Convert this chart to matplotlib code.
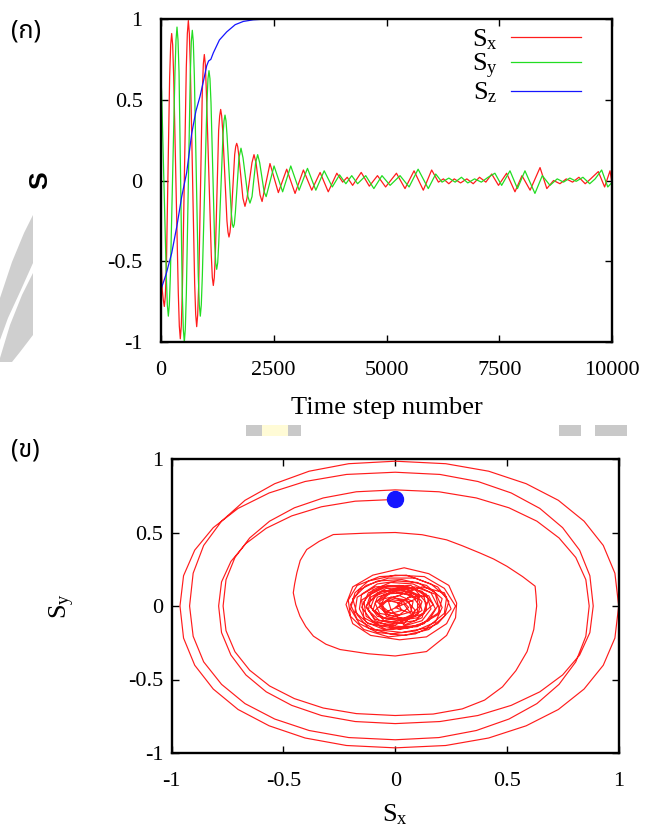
import matplotlib.pyplot as plt
from matplotlib.patches import Polygon, Rectangle

# ---- panel (a): spin components vs time step
sx_points = [
    (0, -0.42), (35, -0.68), (58, -0.74), (80, -0.78), (102, -0.72), (125, -0.55),
    (198, 0.64), (221, 0.84), (243, 0.91), (265, 0.84), (288, 0.64),
    (389, -0.69), (412, -0.90), (434, -0.98), (456, -0.90), (479, -0.69),
    (567, 0.70), (590, 0.91), (612, 0.99), (634, 0.91), (657, 0.70),
    (752, -0.64), (775, -0.83), (797, -0.905), (819, -0.83), (842, -0.64),
    (921, 0.55), (944, 0.72), (966, 0.78), (988, 0.72), (1011, 0.55),
    (1120, -0.46), (1143, -0.60), (1165, -0.65), (1187, -0.60), (1210, -0.46),
    (1283, 0.31), (1306, 0.40), (1328, 0.44), (1350, 0.40), (1373, 0.31),
    (1467, -0.25), (1490, -0.32), (1512, -0.35), (1534, -0.32), (1557, -0.25),
    (1638, 0.16), (1661, 0.21), (1683, 0.23), (1705, 0.21), (1728, 0.16),
    (1821, -0.11), (1866, -0.16), (1911, -0.11), (2021, 0.11), (2066, 0.16), (2111, 0.11),
    (2200, -0.09), (2245, -0.13),
    (2420, 0.105), (2605, -0.075), (2790, 0.07), (2975, -0.08), (3160, 0.065), (3345, -0.06),
    (3530, 0.05), (3710, -0.07), (3900, 0.045), (4030, -0.01), (4130, 0.02), (4250, -0.03),
    (4440, 0.05), (4620, -0.035), (4800, 0.03), (4980, -0.04), (5220, 0.045), (5410, -0.05),
    (5610, 0.06), (5815, -0.06), (6000, 0.065), (6150, -0.01), (6260, 0.01), (6380, -0.02),
    (6500, 0.01), (6640, -0.015), (6780, 0.01), (6920, -0.02), (7060, 0.02), (7200, -0.01),
    (7330, 0.04), (7480, -0.03), (7660, 0.045), (7845, -0.07), (8000, 0.03), (8180, -0.06),
    (8400, 0.08), (8550, -0.05), (8700, 0.0), (8840, -0.02), (8980, 0.01), (9120, -0.01),
    (9260, 0.02), (9400, -0.02), (9520, 0.01), (9690, 0.055), (9830, -0.04), (9950, 0.06),
    (10000, -0.03),
]
sy_points = [
    (0, 0.66), (20, 0.55), (124, -0.59), (147, -0.77), (169, -0.84), (191, -0.77), (214, -0.59),
    (316, 0.67), (339, 0.87), (361, 0.95), (383, 0.87), (406, 0.67),
    (478, -0.70), (501, -0.92), (523, -1.0), (545, -0.92), (568, -0.70),
    (655, 0.65), (678, 0.86), (700, 0.93), (722, 0.86), (745, 0.65),
    (832, -0.59), (855, -0.77), (877, -0.84), (899, -0.77), (922, -0.59),
    (1024, 0.48), (1047, 0.63), (1069, 0.68), (1091, 0.63), (1114, 0.48),
    (1195, -0.39), (1218, -0.51), (1240, -0.55), (1262, -0.51), (1285, -0.39),
    (1379, 0.28), (1402, 0.37), (1424, 0.405), (1446, 0.37), (1469, 0.28),
    (1563, -0.20), (1586, -0.27), (1608, -0.29), (1630, -0.27), (1653, -0.20),
    (1733, 0.14), (1778, 0.20), (1823, 0.14), (1932, -0.10), (1977, -0.14), (2022, -0.10),
    (2102, 0.11), (2147, 0.16), (2192, 0.11), (2290, -0.07), (2335, -0.10),
    (2510, 0.09), (2700, -0.07), (2880, 0.09), (3065, -0.06), (3250, 0.075), (3435, -0.06),
    (3620, 0.06), (3800, -0.04), (3960, 0.035), (4100, -0.02), (4230, 0.03), (4360, -0.02),
    (4540, 0.03), (4720, -0.05), (4900, 0.03), (5080, -0.03), (5300, 0.03), (5500, -0.04),
    (5700, 0.07), (5925, -0.05), (6090, 0.04), (6230, -0.01), (6380, 0.015), (6520, -0.01),
    (6660, 0.02), (6800, -0.015), (6950, 0.01), (7100, -0.01), (7250, 0.02), (7400, 0.045),
    (7550, -0.03), (7734, 0.06), (7900, -0.05), (8066, 0.06), (8287, -0.08), (8450, 0.03),
    (8620, -0.03), (8780, 0.01), (8920, -0.01), (9060, 0.015), (9200, -0.005), (9350, 0.02),
    (9500, -0.02), (9620, 0.01), (9764, 0.065), (9900, -0.04), (10000, -0.01),
]
sz_points = [
    (0, -0.68), (120, -0.58), (243, -0.45), (360, -0.28), (465, -0.10), (576, 0.05),
    (686, 0.29), (780, 0.43), (870, 0.52), (950, 0.62), (1018, 0.71), (1060, 0.74),
    (1110, 0.75), (1165, 0.79), (1300, 0.87), (1461, 0.92), (1650, 0.965), (1830, 0.985),
    (2050, 0.995), (2350, 1.0), (10000, 1.0),
]

step_ticks = [0, 2500, 5000, 7500, 10000]
s_ticks = [-1, -0.5, 0, 0.5, 1]
s_tick_labels = ['-1', '-0.5', '0', '0.5', '1']

# ---- panel (b): in-plane trajectory from the start point, outer loops first
start_point = (0.0, 0.725)
orbit_points = [
    # loop 1
    (0.0, 0.725), (-0.179, 0.713), (-0.330, 0.675), (-0.463, 0.613), (-0.577, 0.529),
    (-0.668, 0.425), (-0.735, 0.303), (-0.777, 0.164), (-0.79, 0.0),
    (-0.777, -0.181), (-0.735, -0.334), (-0.668, -0.469), (-0.577, -0.584), (-0.463, -0.676),
    (-0.330, -0.745), (-0.179, -0.786), (0.0, -0.80),
    (0.200, -0.786), (0.370, -0.745), (0.519, -0.676), (0.647, -0.584), (0.749, -0.469),
    (0.825, -0.334), (0.871, -0.181), (0.886, 0.0),
    (0.871, 0.206), (0.825, 0.380), (0.749, 0.533), (0.647, 0.664), (0.519, 0.769),
    (0.370, 0.847), (0.200, 0.895), (0.0, 0.91),
    # loop 2
    (-0.218, 0.895), (-0.403, 0.847), (-0.564, 0.769), (-0.703, 0.664), (-0.814, 0.533),
    (-0.897, 0.380), (-0.947, 0.206), (-0.963, 0.0),
    (-0.947, -0.218), (-0.897, -0.403), (-0.814, -0.565), (-0.703, -0.704), (-0.564, -0.815),
    (-0.403, -0.898), (-0.218, -0.949), (0.0, -0.965),
    (0.226, -0.949), (0.418, -0.898), (0.586, -0.815), (0.730, -0.704), (0.845, -0.565),
    (0.931, -0.403), (0.983, -0.218), (1.0, 0.0),
    (0.983, 0.223), (0.931, 0.412), (0.845, 0.577), (0.730, 0.719), (0.586, 0.832),
    (0.418, 0.917), (0.226, 0.968), (0.0, 0.985),
    # loop 3
    (-0.208, 0.968), (-0.385, 0.917), (-0.539, 0.832), (-0.672, 0.719), (-0.777, 0.577),
    (-0.857, 0.412), (-0.904, 0.223), (-0.92, 0.0),
    (-0.904, -0.206), (-0.857, -0.380), (-0.777, -0.533), (-0.672, -0.664), (-0.539, -0.769),
    (-0.385, -0.847), (-0.208, -0.895), (0.0, -0.91),
    (0.196, -0.895), (0.363, -0.847), (0.509, -0.769), (0.634, -0.664), (0.733, -0.533),
    (0.808, -0.380), (0.853, -0.206), (0.868, 0.0),
    (0.853, 0.179), (0.808, 0.330), (0.733, 0.463), (0.634, 0.577), (0.509, 0.668),
    (0.363, 0.735), (0.196, 0.777), (0.0, 0.79),
    # loop 4
    (-0.174, 0.777), (-0.322, 0.735), (-0.451, 0.668), (-0.562, 0.577), (-0.651, 0.463),
    (-0.717, 0.330), (-0.757, 0.179), (-0.77, 0.0),
    (-0.757, -0.168), (-0.717, -0.311), (-0.651, -0.437), (-0.562, -0.544), (-0.451, -0.630),
    (-0.322, -0.694), (-0.174, -0.732), (0.0, -0.745),
    (0.17, -0.735), (0.30, -0.70), (0.40, -0.64), (0.48, -0.55), (0.54, -0.44),
    (0.59, -0.31), (0.62, -0.16), (0.633, 0.0),
    (0.63, 0.07), (0.626, 0.135), (0.57, 0.20), (0.50, 0.27), (0.44, 0.32),
    (0.38, 0.36), (0.30, 0.41), (0.23, 0.45), (0.12, 0.485), (0.0, 0.50),
    # loop 5
    (-0.14, 0.495), (-0.277, 0.486), (-0.34, 0.44), (-0.396, 0.384), (-0.425, 0.31),
    (-0.44, 0.226), (-0.45, 0.15), (-0.456, 0.09), (-0.445, 0.01), (-0.426, -0.07),
    (-0.40, -0.14), (-0.366, -0.205), (-0.31, -0.26), (-0.247, -0.296), (-0.12, -0.325),
    (0.0, -0.34), (0.14, -0.31), (0.23, -0.20), (0.27, -0.08), (0.275, 0.02),
    (0.24, 0.14), (0.15, 0.22), (0.04, 0.26),
    # tangled core
    (-0.10, 0.21), (-0.19, 0.13), (-0.22, 0.01), (-0.19, -0.12), (-0.11, -0.20), (0.02, -0.23),
    (0.14, -0.21), (0.23, -0.12), (0.27, 0.00), (0.22, 0.12), (0.13, 0.20), (0.00, 0.21),
    (-0.12, 0.17), (-0.18, 0.09), (-0.20, -0.02), (-0.16, -0.12), (-0.08, -0.18), (0.04, -0.20),
    (0.15, -0.16), (0.22, -0.07), (0.24, 0.03), (0.19, 0.13), (0.09, 0.19), (-0.03, 0.19),
    (-0.13, 0.14), (-0.19, 0.05), (-0.17, -0.06), (-0.12, -0.15), (-0.02, -0.19), (0.09, -0.17),
    (0.18, -0.11), (0.21, -0.01), (0.18, 0.09), (0.10, 0.16), (0.01, 0.17), (-0.08, 0.15),
    (-0.15, 0.08), (-0.16, -0.02), (-0.13, -0.11), (-0.05, -0.16), (0.06, -0.15), (0.15, -0.10),
    (0.19, 0.00), (0.16, 0.09), (0.08, 0.15), (-0.02, 0.16), (-0.10, 0.11), (-0.14, 0.03),
    (-0.13, -0.07), (-0.07, -0.13), (0.03, -0.14), (0.12, -0.10), (0.16, -0.02), (0.14, 0.08),
    (0.06, 0.13), (-0.04, 0.13), (-0.11, 0.08), (-0.13, -0.01), (-0.09, -0.09), (-0.01, -0.12),
    (0.09, -0.10), (0.14, -0.03), (0.13, 0.06), (0.05, 0.11), (-0.04, 0.12), (-0.11, 0.06),
    (-0.12, -0.03), (-0.07, -0.10), (0.02, -0.11), (0.10, -0.06), (0.12, 0.03), (0.08, 0.09),
    (-0.01, 0.11), (-0.09, 0.07), (-0.11, -0.01), (-0.06, -0.08), (0.03, -0.09), (0.10, -0.04),
    (0.10, 0.05), (0.03, 0.09), (-0.05, 0.08), (-0.09, 0.02), (-0.07, -0.05), (0.00, -0.07),
    (0.07, -0.04), (0.08, 0.03), (0.02, 0.07), (-0.05, 0.05), (-0.07, -0.01), (-0.03, -0.06),
    (0.05, -0.09), (0.13, -0.05), (0.15, 0.05), (0.07, 0.14), (-0.06, 0.13), (-0.15, 0.04),
    (-0.14, -0.08), (-0.04, -0.16), (0.10, -0.14), (0.20, -0.04), (0.18, 0.08), (0.09, 0.13),
    (-0.02, 0.10), (-0.08, 0.03), (-0.04, -0.04), (0.02, 0.00),
    (0.11, 0.06), (0.05, 0.12), (-0.06, 0.10), (-0.12, 0.02), (-0.08, -0.07), (0.01, -0.10),
    (0.10, -0.08), (0.17, 0.01), (0.12, 0.10), (0.02, 0.14), (-0.09, 0.13), (-0.17, 0.06),
    (-0.18, -0.04), (-0.12, -0.12), (-0.01, -0.15), (0.11, -0.13), (0.19, -0.06), (0.21, 0.05),
    (0.14, 0.14), (0.03, 0.18), (-0.08, 0.17), (-0.16, 0.11), (-0.20, 0.01), (-0.17, -0.09),
    (-0.09, -0.16), (0.03, -0.18), (0.14, -0.15), (0.22, -0.05), (0.23, 0.06), (0.16, 0.15),
    (0.05, 0.21), (-0.07, 0.20), (-0.17, 0.14), (-0.21, 0.04), (-0.20, -0.07), (-0.14, -0.16),
    (-0.03, -0.21), (0.09, -0.19), (0.19, -0.12), (0.25, -0.02), (0.22, 0.09), (0.12, 0.13),
    (0.03, 0.08), (-0.04, 0.04), (-0.09, -0.03), (-0.05, -0.10), (0.04, -0.12), (0.09, -0.03),
    (0.05, 0.04), (-0.02, 0.06), (-0.06, 0.00), (-0.02, -0.05), (0.03, -0.03), (0.01, 0.02),
    (0.08, 0.07), (0.00, 0.10), (-0.08, 0.06), (-0.10, -0.03), (-0.04, -0.09), (0.06, -0.08),
    (0.11, 0.00), (0.07, 0.08), (-0.02, 0.09), (-0.07, 0.03), (-0.05, -0.04), (0.02, -0.06),
    (0.06, -0.01), (0.03, 0.04), (-0.03, 0.03), (-0.02, -0.02), (0.04, -0.13), (0.12, -0.08),
    (0.14, 0.02), (0.09, 0.11), (-0.03, 0.14), (-0.12, 0.09), (-0.15, -0.01), (-0.10, -0.11),
    (0.00, -0.13), (0.08, -0.06), (0.06, 0.03), (0.00, 0.05),
    (-0.06, 0.02), (-0.04, -0.07), (0.05, -0.10), (0.12, -0.03), (0.10, 0.07), (0.01, 0.12),
    (-0.08, 0.09), (-0.13, 0.00), (-0.09, -0.10), (0.02, -0.16), (0.13, -0.12), (0.18, -0.02),
    (0.15, 0.07), (0.06, 0.06), (0.00, -0.01), (0.07, -0.05), (0.04, 0.01), (-0.01, 0.03),
]
unit_ticks = [-1, -0.5, 0, 0.5, 1]
unit_tick_labels = ['-1', '-0.5', '0', '0.5', '1']

RED = '#ff1c1c'
GREEN = '#22dd22'
BLUE = '#1515ff'
THAI = ['Noto Sans Thai', 'Noto Sans Thai Looped', 'Loma', 'Garuda', 'Norasi',
        'Tlwg Typo', 'DejaVu Sans']

plt.rcParams['font.family'] = ['Liberation Serif']
plt.rcParams['mathtext.fontset'] = 'custom'
plt.rcParams['mathtext.rm'] = 'Liberation Serif'
plt.rcParams['mathtext.it'] = 'Liberation Serif:italic'
plt.rcParams['axes.unicode_minus'] = False

fig = plt.figure(figsize=(6.5, 8.33), dpi=100)
W, H = 650.0, 833.0


def px_rect(x0, y0, x1, y1, color):
    # rectangle given in pixel coordinates of the page (origin top-left)
    fig.patches.append(Rectangle((x0 / W, 1 - y1 / H), (x1 - x0) / W, (y1 - y0) / H,
                                 transform=fig.transFigure, color=color, lw=0, zorder=0))


# page decorations: watermark bands at the left edge and small marker bars
for band in ([(0, 298), (12, 262), (24, 233), (33, 215), (33, 263), (20, 292), (8, 318), (0, 340)],
             [(0, 358), (10, 325), (22, 295), (33, 273), (33, 335), (20, 352), (12, 362), (0, 362)]):
    fig.patches.append(Polygon([(x / W, 1 - y / H) for x, y in band], closed=True,
                               transform=fig.transFigure, color='#cfcfcf', lw=0, zorder=0))
px_rect(246, 425, 262, 436, '#c9c9c9')
px_rect(262, 425, 288, 436, '#fffbd6')
px_rect(288, 425, 301, 436, '#c9c9c9')
px_rect(559, 425, 581, 436, '#c9c9c9')
px_rect(595, 425, 627, 436, '#c9c9c9')

ax_t = fig.add_axes([160.7 / W, 1 - 342 / H, 451.6 / W, 323 / H])
ax_p = fig.add_axes([171.7 / W, 1 - 753 / H, 447 / W, 294 / H])


def frame(ax, xpad, ypad):
    for spine in ax.spines.values():
        spine.set_linewidth(1.7)
    ax.tick_params(direction='in', top=True, right=True, length=5, width=1.0, labelsize=16)
    ax.tick_params(axis='x', pad=xpad)
    ax.tick_params(axis='y', pad=ypad)


# (a) time series
for pts, col, lab in ((sx_points, RED, r'S$_{\rm x}$'),
                      (sy_points, GREEN, r'S$_{\rm y}$'),
                      (sz_points, BLUE, r'S$_{\rm z}$')):
    steps, vals = zip(*pts)
    ax_t.plot(steps, vals, color=col, lw=0.9, label=lab)

ax_t.set_xlim(0, 10000)
ax_t.set_ylim(-1, 1)
ax_t.set_xticks(step_ticks)
ax_t.set_xticklabels([str(s) for s in step_ticks])
ax_t.set_yticks(s_ticks)
ax_t.set_yticklabels(s_tick_labels)
frame(ax_t, 14, 13)
ax_t.set_xlabel('Time step number', fontsize=19, va='center')
ax_t.xaxis.set_label_coords(0.5, -0.204)
ax_t.set_ylabel('S', fontsize=19, family='Liberation Sans', fontweight='bold', va='center')
ax_t.yaxis.set_label_coords(-0.267, 0.5)
ax_t.legend(loc='upper right', bbox_to_anchor=(0.930, 0.975), markerfirst=False,
            frameon=False, fontsize=19, handlelength=2.65, handletextpad=0.5,
            labelspacing=0.0, borderaxespad=0, borderpad=0)

# (b) trajectory in the Sx-Sy plane
ox, oy = zip(*orbit_points)
ax_p.plot(ox, oy, color=RED, lw=0.85)
ax_p.plot([start_point[0]], [start_point[1]], 'o', color=BLUE, ms=11.5, zorder=5)
ax_p.set_xlim(-1, 1)
ax_p.set_ylim(-1, 1)
ax_p.set_xticks(unit_ticks)
ax_p.set_xticklabels(unit_tick_labels)
ax_p.set_yticks(unit_ticks)
ax_p.set_yticklabels(unit_tick_labels)
frame(ax_p, 14, 6)
ax_p.set_xlabel(r'S$_{\rm x}$', fontsize=19, va='center')
ax_p.xaxis.set_label_coords(0.5, -0.211)
ax_p.set_ylabel(r'S$_{\rm y}$', fontsize=19, va='center')
ax_p.yaxis.set_label_coords(-0.245, 0.5)

fig.text(11 / W, 1 - 31 / H, '(ก)', fontsize=18, fontweight='bold', family=THAI, va='center')
fig.text(11 / W, 1 - 450 / H, '(ข)', fontsize=18, fontweight='bold', family=THAI, va='center')

fig.savefig('out.png', dpi=100)
